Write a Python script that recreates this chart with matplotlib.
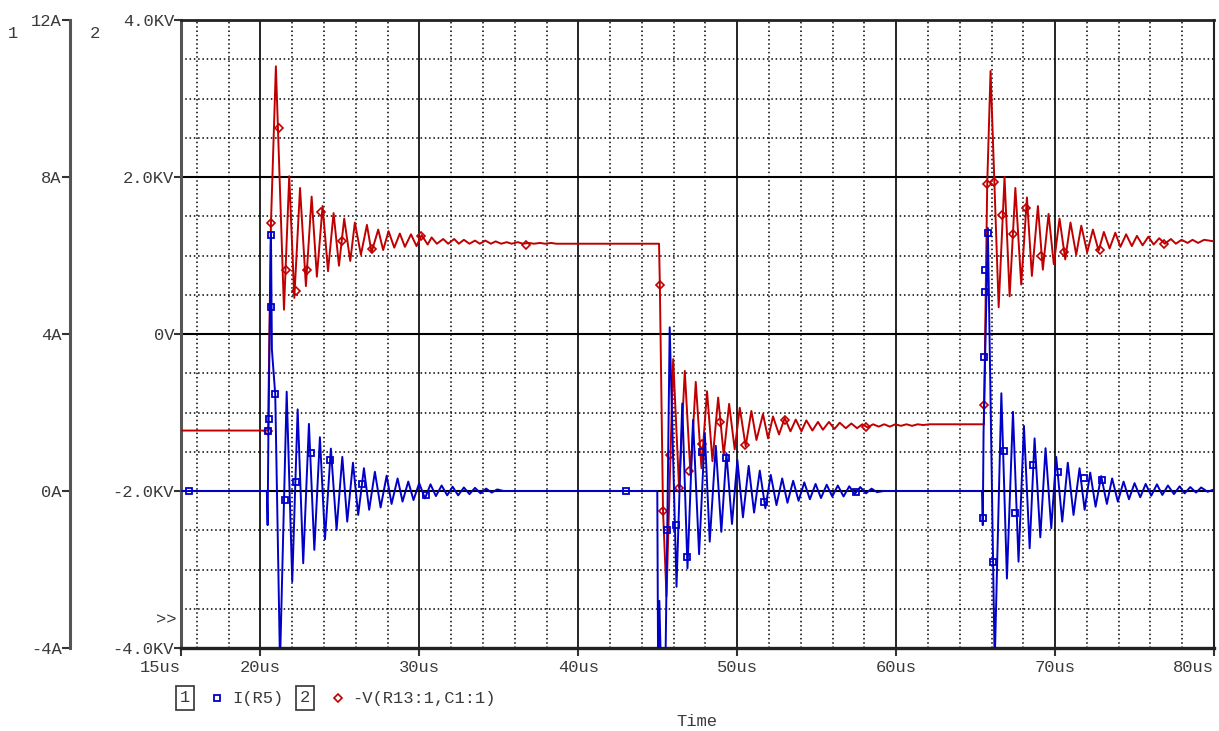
import numpy as np
import matplotlib.pyplot as plt
from matplotlib.lines import Line2D

# trace 2: -V(R13:1,C1:1) in KV, peaks/troughs
v_time = [15.0, 20.49, 20.52, 20.66, 20.97, 21.48, 21.81, 22.13, 22.49, 22.86, 23.22, 23.55,
          23.91, 24.25, 24.6, 24.94, 25.27, 25.65, 25.94, 26.32, 26.7, 26.99, 27.41, 27.72,
          28.06, 28.42, 28.77, 29.09, 29.47, 29.82, 30.14, 30.52, 30.77, 31.1, 31.5, 31.81,
          32.19, 32.48, 32.8, 33.15, 33.5, 33.8, 34.15, 34.5, 34.8, 35.15, 35.5, 35.8,
          36.2, 36.5, 36.9, 37.2, 37.6, 37.9, 38.3, 38.6, 39.3, 45.08,
          45.13, 45.33, 45.55, 45.97, 46.34, 46.7, 47.06, 47.39, 47.75, 48.1, 48.44, 48.8,
          49.15, 49.49, 49.84, 50.16, 50.53, 50.89, 51.21, 51.62, 51.94, 52.25, 52.63, 52.99,
          53.35, 53.68, 54.04, 54.35, 54.73, 55.08, 55.39, 55.77, 56.12, 56.45, 56.83, 57.18,
          57.54, 57.87, 58.2, 58.55, 58.9, 59.25, 59.6, 59.95, 60.3, 60.65, 61.0, 61.35,
          61.7, 62.1, 65.52,
          65.56, 65.73, 65.94, 66.45, 66.82, 67.14, 67.5, 67.87, 68.23, 68.54, 68.92, 69.23,
          69.59, 69.92, 70.28, 70.64, 70.97, 71.33, 71.65, 72.02, 72.38, 72.74, 73.07, 73.43,
          73.79, 74.11, 74.47, 74.83, 75.15, 75.51, 75.87, 76.2, 76.55, 76.91, 77.29, 77.6,
          77.96, 78.34, 78.65, 79.0, 79.38, 80.0]
v_kv = [-1.23, -1.23, -0.6, 1.41, 3.41, 0.31, 2.01, 0.46, 1.86, 0.61, 1.75, 0.73,
        1.63, 0.80, 1.54, 0.87, 1.47, 0.93, 1.42, 1.01, 1.39, 1.04, 1.33, 1.07,
        1.31, 1.10, 1.28, 1.11, 1.27, 1.12, 1.26, 1.14, 1.23, 1.15, 1.21, 1.15,
        1.21, 1.15, 1.20, 1.15, 1.19, 1.15, 1.19, 1.15, 1.18, 1.15, 1.17, 1.15,
        1.17, 1.15, 1.16, 1.15, 1.16, 1.15, 1.16, 1.15, 1.15, 1.15,
        0.63, -2.25, -3.34, -0.32, -1.96, -0.47, -1.79, -0.61, -1.71, -0.73, -1.62, -0.81,
        -1.54, -0.89, -1.47, -0.94, -1.43, -0.98, -1.35, -1.02, -1.33, -1.05, -1.28, -1.07,
        -1.24, -1.09, -1.24, -1.10, -1.23, -1.12, -1.22, -1.12, -1.21, -1.13, -1.20, -1.14,
        -1.20, -1.15, -1.19, -1.15, -1.18, -1.15, -1.18, -1.15, -1.17, -1.15, -1.17, -1.15,
        -1.16, -1.15, -1.15,
        -0.6, 1.91, 3.35, 0.34, 2.00, 0.48, 1.86, 0.63, 1.74, 0.74, 1.63, 0.82,
        1.53, 0.89, 1.47, 0.95, 1.42, 1.01, 1.38, 1.04, 1.33, 1.06, 1.30, 1.09,
        1.29, 1.11, 1.27, 1.12, 1.25, 1.13, 1.24, 1.14, 1.22, 1.15, 1.21, 1.15,
        1.20, 1.16, 1.20, 1.16, 1.20, 1.18]

# trace 1: I(R5) in A
i_time = [15.0, 20.4, 20.45, 20.5, 20.66, 20.72, 20.93, 21.23, 21.65, 22.0, 22.34, 22.69,
          23.05, 23.39, 23.74, 24.06, 24.43, 24.79, 25.15, 25.46, 25.82, 26.15, 26.51, 26.84,
          27.2, 27.56, 27.94, 28.25, 28.63, 28.94, 29.3, 29.63, 29.99, 30.35, 30.7, 31.04,
          31.4, 31.75, 32.09, 32.44, 32.8, 33.15, 33.5, 33.85, 34.2, 34.55, 34.9, 35.3, 44.97,
          45.02, 45.1, 45.2, 45.48, 45.6, 45.75, 46.18, 46.54, 46.87, 47.22, 47.6, 47.96,
          48.27, 48.65, 49.0, 49.32, 49.67, 50.01, 50.36, 50.72, 51.06, 51.42, 51.77, 52.11,
          52.47, 52.83, 53.16, 53.52, 53.86, 54.22, 54.57, 54.93, 55.27, 55.63, 55.98, 56.33,
          56.69, 57.05, 57.39, 57.74, 58.1, 58.45, 58.8, 59.2, 65.4,
          65.45, 65.5, 65.77, 66.2, 66.62, 66.97, 67.35, 67.7, 68.04, 68.4, 68.71, 69.07,
          69.4, 69.76, 70.07, 70.45, 70.8, 71.16, 71.54, 71.86, 72.21, 72.55, 72.9, 73.26,
          73.59, 73.95, 74.31, 74.65, 75.0, 75.36, 75.7, 76.05, 76.41, 76.75, 77.1, 77.48,
          77.84, 78.15, 78.51, 78.87, 79.19, 79.6, 80.0]
i_amp = [0.0, 0.0, -0.87, 1.5, 6.6, 3.6, 2.46, -4.4, 2.53, -2.31, 2.08, -1.84,
         1.71, -1.50, 1.37, -1.23, 1.08, -0.99, 0.87, -0.78, 0.72, -0.61, 0.58, -0.48,
         0.49, -0.42, 0.39, -0.33, 0.32, -0.27, 0.24, -0.23, 0.20, -0.19, 0.17, -0.13,
         0.14, -0.11, 0.11, -0.11, 0.09, -0.08, 0.08, -0.06, 0.06, -0.04, 0.04, 0.0, 0.0,
         -4.5, -2.8, -4.5, -4.5, -0.9, 4.17, -2.44, 2.23, -1.97, 1.81, -1.61, 1.47,
         -1.29, 1.15, -1.04, 0.96, -0.84, 0.79, -0.67, 0.64, -0.55, 0.52, -0.44, 0.41,
         -0.36, 0.32, -0.30, 0.26, -0.25, 0.22, -0.21, 0.18, -0.18, 0.16, -0.14, 0.14,
         -0.14, 0.12, -0.08, 0.10, -0.06, 0.06, -0.03, 0.0, 0.0,
         -0.87, 1.5, 6.7, -4.4, 2.49, -2.23, 2.02, -1.80, 1.66, -1.46, 1.34, -1.18,
         1.09, -0.95, 0.87, -0.78, 0.72, -0.61, 0.58, -0.48, 0.47, -0.40, 0.38, -0.33,
         0.32, -0.27, 0.24, -0.21, 0.20, -0.16, 0.18, -0.12, 0.17, -0.10, 0.14, -0.08,
         0.12, -0.06, 0.10, -0.04, 0.09, -0.02, 0.04]

# symbol markers drawn by the probe along each trace
v_mark_time = [20.49, 20.66, 21.16, 21.58, 22.21, 22.95, 23.81, 25.15, 26.99, 30.08, 36.74,
               45.13, 45.33, 45.75, 46.34, 46.97, 47.81, 48.94, 50.47, 52.99, 58.08,
               65.52, 65.73, 66.15, 66.66, 67.35, 68.19, 69.13, 70.56, 72.8, 76.85]
v_mark_kv = [-1.23, 1.41, 2.62, 0.82, 0.55, 0.82, 1.56, 1.18, 1.08, 1.25, 1.14,
             0.63, -2.25, -1.54, -1.96, -1.75, -1.40, -1.12, -1.41, -1.09, -1.18,
             -0.91, 1.91, 1.94, 1.52, 1.28, 1.60, 0.99, 1.04, 1.07, 1.15]
i_mark_time = [15.52, 20.49, 20.53, 20.64, 20.66, 20.93, 21.52, 22.21, 23.15, 24.35, 26.4, 30.41,
               42.97, 45.6, 46.13, 46.81, 47.81, 49.28, 51.69, 57.45,
               65.46, 65.52, 65.57, 65.61, 65.77, 66.09, 66.78, 67.5, 68.6, 70.18, 71.79, 72.97]
i_mark_amp = [0.0, 1.54, 1.83, 4.7, 6.52, 2.46, -0.23, 0.24, 0.96, 0.79, 0.17, -0.1,
              0.0, -0.99, -0.87, -1.69, 1.0, 0.85, -0.27, -0.02,
              -0.70, 3.42, 5.08, 5.63, 6.57, -1.8, 1.02, -0.57, 0.66, 0.49, 0.32, 0.28]

x_ticks = [15, 20, 30, 40, 50, 60, 70, 80]
x_labels = ['15us', '20us', '30us', '40us', '50us', '60us', '70us', '80us']
v_ticks = [-4, -2, 0, 2, 4]
v_labels = ['-4.0KV', '-2.0KV', '0V', '2.0KV', '4.0KV']
i_ticks = [-4, 0, 4, 8, 12]
i_labels = ['-4A', '0A', '4A', '8A', '12A']

RED = '#c00000'
BLUE = '#0000c8'
TXT = '#3a3a3a'
W, H = 1219, 731

plt.rcParams['font.family'] = ['Liberation Mono', 'DejaVu Sans Mono']
plt.rcParams['font.size'] = 12.3

fig = plt.figure(figsize=(W / 100, H / 100), dpi=100)
ax = fig.add_axes([181 / W, 1 - 648 / H, (1214 - 181) / W, (648 - 20) / H])
ax.set_xlim(15, 80)
ax.set_ylim(-4, 4)

# grid: solid every 10us / 2KV, dotted every 2us / 0.5KV
for x in np.arange(16, 80, 2):
    if x % 10 == 0:
        ax.axvline(x, color='black', lw=1.2, zorder=1)
    else:
        ax.axvline(x, color='black', lw=1.1, ls=(0, (1, 1.8)), zorder=1)
for y in np.arange(-3.5, 4, 0.5):
    if y % 2 == 0:
        ax.axhline(y, color='black', lw=1.5, zorder=1)
    else:
        ax.axhline(y, color='black', lw=1.1, ls=(0, (1, 1.8)), zorder=1)

ax.plot(v_time, v_kv, color=RED, lw=1.4, zorder=3)
ax.plot(v_mark_time, v_mark_kv, ls='none', marker='D', ms=3.6, mfc='none', mec=RED, mew=1.2, zorder=3)

ax.set_xticks(x_ticks)
ax.set_xticklabels(x_labels)
ax.set_yticks(v_ticks)
ax.set_yticklabels(v_labels)
ax.tick_params(axis='x', direction='out', length=6, width=1.5, color='#333', labelcolor=TXT, pad=3)
ax.tick_params(axis='y', direction='out', length=5, width=1.5, color='#333', labelcolor=TXT, pad=0)
lbls = ax.get_xticklabels()
lbls[0].set_ha('right')
lbls[-1].set_ha('right')

ax.spines['left'].set_color('#555')
ax.spines['left'].set_linewidth(2.2)
ax.spines['bottom'].set_color('#222')
ax.spines['bottom'].set_linewidth(2.4)
ax.spines['top'].set_color('#222')
ax.spines['top'].set_linewidth(2.0)
ax.spines['right'].set_color('#222')
ax.spines['right'].set_linewidth(1.5)

# current axis, sits on the far left
ax2 = ax.twinx()
ax2.set_ylim(-4, 12)
ax2.plot(i_time, i_amp, color=BLUE, lw=1.4, zorder=4)
ax2.plot(i_mark_time, i_mark_amp, ls='none', marker='s', ms=4.2, mfc='none', mec=BLUE, mew=1.3, zorder=4)
ax2.yaxis.set_ticks_position('left')
ax2.spines['left'].set_position(('axes', (70 - 181) / (1214 - 181)))
ax2.spines['left'].set_visible(True)
ax2.spines['left'].set_color('#555')
ax2.spines['left'].set_linewidth(2.2)
for s in ['right', 'top', 'bottom']:
    ax2.spines[s].set_visible(False)
ax2.set_yticks(i_ticks)
ax2.set_yticklabels(i_labels)
ax2.tick_params(axis='y', direction='out', length=6, width=1.5, color='#333', labelcolor=TXT, pad=0)

fig.text(13 / W, 1 - 33 / H, '1', color=TXT, ha='center', va='center')
fig.text(95 / W, 1 - 33 / H, '2', color=TXT, ha='center', va='center')
fig.text(176 / W, 1 - 620 / H, '>>', color=TXT, ha='right', va='center')
fig.text(697 / W, 1 - 722 / H, 'Time', color=TXT, ha='center', va='center')

# legend row
ly = 1 - 698 / H
box = dict(boxstyle='square,pad=0.25', fc='none', ec='#333', lw=1.2)
fig.text(185 / W, ly, '1', color=TXT, ha='center', va='center', bbox=box)
fig.add_artist(Line2D([217 / W], [ly], marker='s', ms=4.2, mfc='none', mec=BLUE, mew=1.3,
                      transform=fig.transFigure))
fig.text(232 / W, ly, 'I(R5)', color=TXT, ha='left', va='center')
fig.text(305 / W, ly, '2', color=TXT, ha='center', va='center', bbox=box)
fig.add_artist(Line2D([338 / W], [ly], marker='D', ms=3.6, mfc='none', mec=RED, mew=1.2,
                      transform=fig.transFigure))
fig.text(352 / W, ly, '-V(R13:1,C1:1)', color=TXT, ha='left', va='center')

fig.savefig('out.png', dpi=100, facecolor='white')
